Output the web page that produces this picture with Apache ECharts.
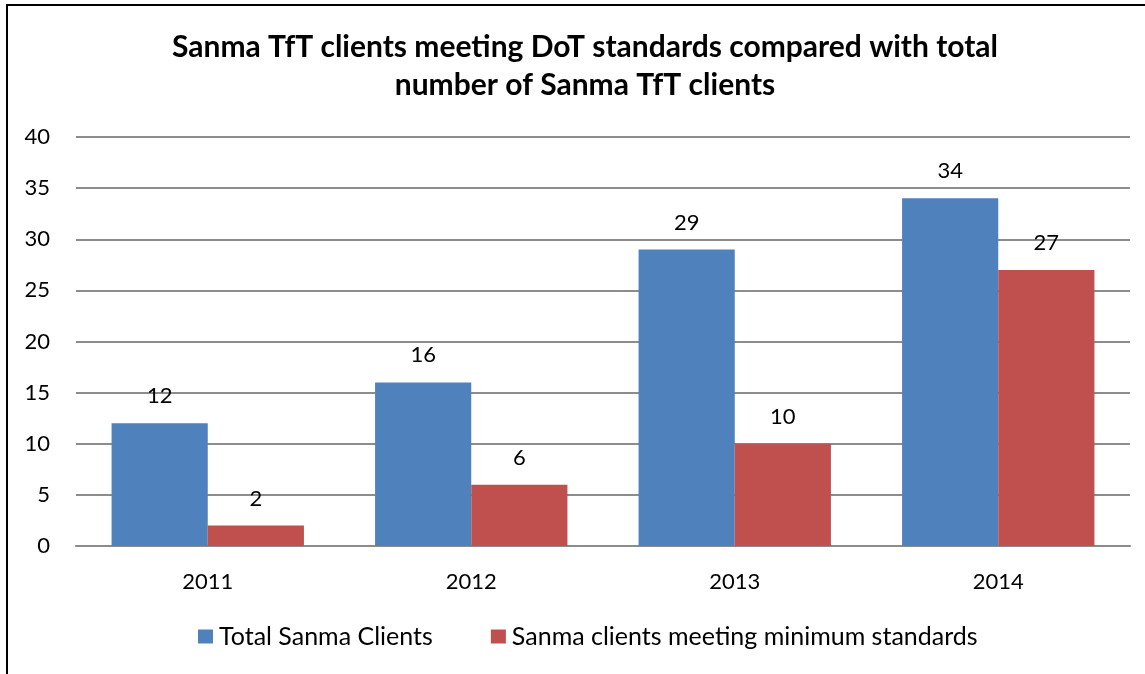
<!DOCTYPE html>
<html>
<head>
<meta charset="utf-8">
<script src="https://cdn.jsdelivr.net/npm/echarts@6/dist/echarts.min.js"></script>
<style>
  html, body { margin: 0; padding: 0; background: #fff; }
  #frame {
    position: absolute; left: 6px; top: 4px; width: 1145px; height: 680px;
    border-left: 2px solid #000; border-top: 2px solid #000;
  }
  #chart { position: absolute; left: 0; top: 0; width: 1145px; height: 674px; }
</style>
</head>
<body>
<div id="frame"></div>
<div id="chart"></div>
<script>
// 年份
const years = ['2011', '2012', '2013', '2014'];
// 客户总数
const totalClients = [12, 16, 29, 34];
// 达标客户
const meetingStandards = [2, 6, 10, 27];

let chart = echarts.init(document.getElementById('chart'));
const font = 'Lato, "Open Sans", sans-serif';
chart.setOption({
  color: ['#4f81bd', '#c0504d'],
  textStyle: { fontFamily: font },
  title: {
    text: 'Sanma TfT clients meeting DoT standards compared with total\nnumber of Sanma TfT clients',
    left: 580,
    textAlign: 'center',
    top: 23,
    textStyle: { fontSize: 30, fontWeight: 'bold', color: '#000', lineHeight: 38, fontFamily: font }
  },
  legend: {
    bottom: 20,
    left: 193,
    itemWidth: 15,
    itemHeight: 14,
    itemGap: 58,
    icon: 'rect',
    textStyle: { fontSize: 25, color: '#000', fontFamily: font, padding: [0, 0, 0, 1] }
  },
  grid: { left: 76, right: 15, top: 137, bottom: 128 },
  xAxis: {
    type: 'category',
    data: years,
    axisTick: { show: false },
    axisLine: { lineStyle: { color: '#8c8c8c', width: 2 } },
    axisLabel: { fontSize: 22, color: '#000', margin: 25 }
  },
  yAxis: {
    type: 'value',
    min: 0, max: 40, interval: 5,
    axisLabel: { fontSize: 22, color: '#000', margin: 26 },
    splitLine: { lineStyle: { color: '#8c8c8c', width: 2 } }
  },
  series: [
    {
      name: 'Total Sanma Clients',
      type: 'bar',
      data: totalClients,
      barGap: '0%',
      barCategoryGap: '27%',
      label: { show: true, position: 'top', distance: 16, fontSize: 22, color: '#000' }
    },
    {
      name: 'Sanma clients meeting minimum standards',
      type: 'bar',
      data: meetingStandards,
      label: { show: true, position: 'top', distance: 16, fontSize: 22, color: '#000' }
    }
  ]
});
</script>
</body>
</html>
